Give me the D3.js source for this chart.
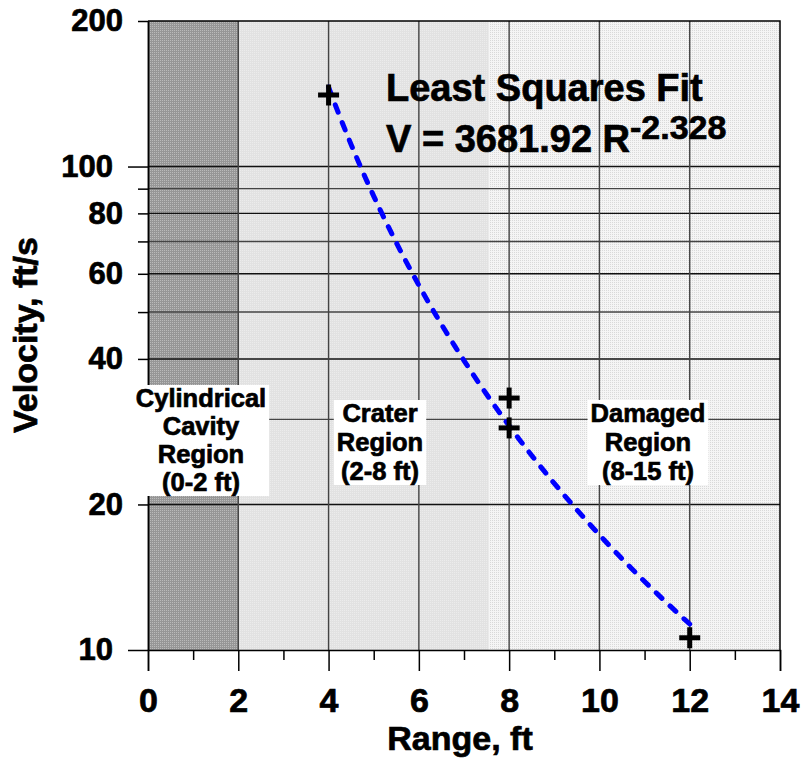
<!DOCTYPE html>
<html>
<head>
<meta charset="utf-8">
<script src="https://cdn.jsdelivr.net/npm/d3@7"></script>
<style>
  body { margin: 0; background: #fff; }
  svg text { font-family: "Liberation Sans", Arial, Helvetica, sans-serif; font-weight: bold; fill: #000;
             stroke: #000; stroke-width: 0.7px; }
</style>
</head>
<body>
<svg id="chart" width="801" height="759"></svg>
<script>
// Measured ranges (ft) and particle velocities (ft/s)
const rangeFt = [4, 8, 8, 12];
const velocityFtS = [140.6, 33.2, 28.8, 10.6];

// Least squares power-law fit V = A * R^B, drawn over the measured span
const fitA = 3681.92;
const fitB = -2.328;
const fitFrom = 4;
const fitTo = 12;

// Damage zones along the range axis
const zoneStart = [0, 2, 7.55];
const zoneEnd = [2, 7.55, 14];
const zoneLines = [
  ["Cylindrical", "Cavity", "Region", "(0-2 ft)"],
  ["Crater", "Region", "(2-8 ft)"],
  ["Damaged", "Region", "(8-15 ft)"]
];

// Axis ticks
const xTicks = [0, 1, 2, 3, 4, 5, 6, 7, 8, 9, 10, 11, 12, 13, 14];
const xLabelTicks = [0, 2, 4, 6, 8, 10, 12, 14];
const yLongTicks = [10, 100];
const yShortTicks = [20, 30, 40, 50, 60, 70, 80, 90, 200];
const yLabelTicks = [10, 20, 40, 60, 80, 100, 200];
const gridX = [2, 4, 6, 8, 10, 12];
const gridY = [20, 30, 40, 50, 60, 70, 80, 90, 100];

const svg = d3.select("#chart");
const plot = { left: 148, right: 780, top: 21, bottom: 650 };

const x = d3.scaleLinear().domain([0, 14]).range([plot.left, plot.right]);
const y = d3.scaleLog().domain([10, 200]).range([plot.bottom, plot.top]);

// Stippled fills for the three zones
const defs = svg.append("defs");
const stipple = [
  { id: "zone0", base: "#969696", dot: "#bababa" },
  { id: "zone1", base: "#e2e2e2", dot: "#ececec" },
  { id: "zone2", base: "#f5f5f5", dot: "#d9d9d9" }
];
stipple.forEach(s => {
  const p = defs.append("pattern").attr("id", s.id)
    .attr("patternUnits", "userSpaceOnUse").attr("width", 2).attr("height", 2);
  p.append("rect").attr("width", 2).attr("height", 2).attr("fill", s.base);
  p.append("rect").attr("width", 1).attr("height", 1).attr("fill", s.dot);
});

svg.append("g").selectAll("rect")
  .data(zoneStart.map((s, i) => ({ s, e: zoneEnd[i], i })))
  .join("rect")
  .attr("x", d => x(d.s))
  .attr("y", plot.top)
  .attr("width", d => x(d.e) - x(d.s))
  .attr("height", plot.bottom - plot.top)
  .attr("fill", d => `url(#zone${d.i})`);

// Grid
const grid = svg.append("g");
grid.selectAll("line.gy").data(gridY).join("line")
  .attr("class", "gy")
  .attr("x1", plot.left).attr("x2", plot.right)
  .attr("y1", d => y(d)).attr("y2", d => y(d))
  .attr("stroke", d => (d % 20 === 0 ? "#111" : "#444"))
  .attr("stroke-width", 1.4);
grid.selectAll("line.gx").data(gridX).join("line")
  .attr("class", "gx")
  .attr("x1", d => x(d)).attr("x2", d => x(d))
  .attr("y1", plot.top).attr("y2", plot.bottom)
  .attr("stroke", "#444")
  .attr("stroke-width", 1.4);

// Frame (top and right edges)
svg.append("path")
  .attr("d", `M${plot.left},${plot.top}H${plot.right}V${plot.bottom}`)
  .attr("fill", "none").attr("stroke", "#000").attr("stroke-width", 1.5);

// Fit curve
const fitPts = d3.range(fitFrom, fitTo + 1e-9, 0.1).map(r => [r, fitA * Math.pow(r, fitB)]);
svg.append("path")
  .datum(fitPts)
  .attr("d", d3.line().x(d => x(d[0])).y(d => y(d[1])))
  .attr("fill", "none")
  .attr("stroke", "#0000ff")
  .attr("stroke-width", 5)
  .attr("stroke-linecap", "round")
  .attr("stroke-dasharray", "8,11");

// Measured points as plus markers
svg.append("g").selectAll("g")
  .data(rangeFt.map((r, i) => [r, velocityFtS[i]]))
  .join("g")
  .attr("transform", d => `translate(${x(d[0])},${y(d[1])})`)
  .each(function () {
    const g = d3.select(this);
    g.append("line").attr("x1", -10.5).attr("x2", 10.5).attr("y1", 0).attr("y2", 0);
    g.append("line").attr("x1", 0).attr("x2", 0).attr("y1", -10.5).attr("y2", 10.5);
  })
  .selectAll("line").attr("stroke", "#000").attr("stroke-width", 5);

// X axis
const xAxisG = svg.append("g").attr("transform", `translate(0,${plot.bottom})`);
xAxisG.call(d3.axisBottom(x).tickValues(xTicks).tickSizeOuter(0)
  .tickSize(21).tickPadding(17)
  .tickFormat(d => (xLabelTicks.includes(d) ? d : "")));
xAxisG.selectAll(".tick line")
  .attr("y2", d => (xLabelTicks.includes(d) ? 21 : 10));
xAxisG.selectAll(".tick text").style("font-size", "34px");
xAxisG.selectAll("path, line").attr("stroke", "#000").attr("stroke-width", 1.5);

// Y axis: decade ticks long, others short
const yAxisLong = svg.append("g").attr("transform", `translate(${plot.left},0)`)
  .call(d3.axisLeft(y).tickValues(yLongTicks).tickSize(20).tickPadding(15)
    .tickSizeOuter(0).tickFormat(d3.format("d")));
const yAxisShort = svg.append("g").attr("transform", `translate(${plot.left},0)`)
  .call(d3.axisLeft(y).tickValues(yShortTicks).tickSize(10).tickPadding(15)
    .tickSizeOuter(0).tickFormat(d => (yLabelTicks.includes(d) ? d3.format("d")(d) : "")));
[yAxisLong, yAxisShort].forEach(g => {
  g.selectAll("path, line").attr("stroke", "#000").attr("stroke-width", 1.5);
  g.selectAll(".tick text").style("font-size", "31px");
});

// Axis titles
svg.append("text")
  .attr("x", 460).attr("y", 750)
  .attr("text-anchor", "middle")
  .style("font-size", "34px")
  .text("Range, ft");
svg.append("text")
  .attr("transform", "translate(37,335) rotate(-90)")
  .attr("text-anchor", "middle")
  .style("font-size", "34px")
  .text("Velocity, ft/s");

// Zone labels on white boxes
const zoneLabelPos = [
  { cx: 201, base: 407, step: 28 },
  { cx: 380, base: 422, step: 29 },
  { cx: 648, base: 422, step: 29 }
];
zoneLines.forEach((lines, i) => {
  const pos = zoneLabelPos[i];
  const g = svg.append("g");
  const box = g.append("rect").attr("fill", "#fff");
  const t = g.append("text").attr("text-anchor", "middle").style("font-size", "25.5px");
  lines.forEach((ln, k) => {
    t.append("tspan").attr("x", pos.cx).attr("y", pos.base + k * pos.step).text(ln);
  });
  const bb = t.node().getBBox();
  box.attr("x", bb.x - 3).attr("y", bb.y + 1)
    .attr("width", bb.width + 6).attr("height", bb.height - 1);
});

// Fit annotation
svg.append("text")
  .attr("x", 386).attr("y", 101)
  .style("font-size", "38px")
  .text("Least Squares Fit");
const eq = svg.append("text")
  .attr("x", 386).attr("y", 152)
  .style("font-size", "38px");
eq.append("tspan").text(`V = ${fitA} R`);
eq.append("tspan").attr("dy", -13).style("font-size", "34px").text(`${fitB}`);
</script>
</body>
</html>
